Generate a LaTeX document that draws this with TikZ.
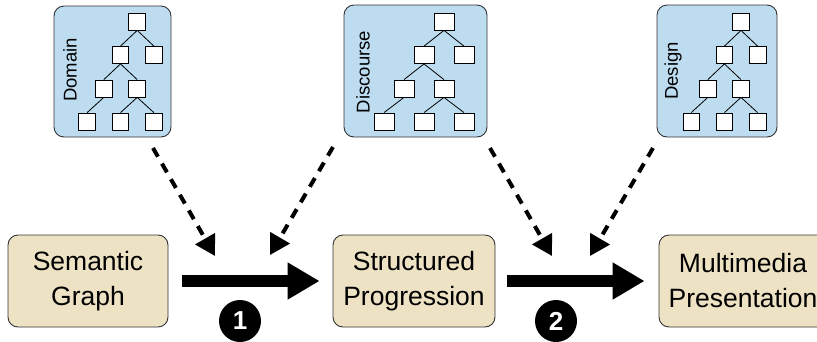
\documentclass[tikz,border=0pt]{standalone}
\usepackage{fontspec}
\setmainfont{Liberation Sans}
\usetikzlibrary{arrows.meta}
\definecolor{topblue}{HTML}{BDDCF0}
\definecolor{beige}{HTML}{EEE2C4}
\definecolor{edgegray}{HTML}{333333}
\tikzset{
  panel/.style={draw=edgegray, line width=0.9pt, fill=topblue, rounded corners=10pt, inner sep=0pt},
  stagebox/.style={draw=edgegray, line width=0.9pt, fill=beige, rounded corners=10pt, inner sep=0pt,
    align=center, font=\fontsize{26.5}{35}\selectfont, minimum height=92pt},
  sq/.style={draw=black, fill=white, line width=0.8pt, minimum height=17pt, inner sep=0pt},
  treeedge/.style={draw=black, line width=0.8pt},
  paneltext/.style={rotate=90, font=\fontsize{18.5}{20}\selectfont, inner sep=0pt},
  bigarrow/.style={line width=12pt, -{Triangle[length=32pt,width=35pt]}},
  dasharrow/.style={line width=4pt, dash pattern=on 10pt off 8pt, -{Triangle[length=20pt,width=22pt]}},
  badge/.style={circle, fill=black, text=white, minimum size=42pt, inner sep=0pt,
    font=\fontsize{26}{26}\selectfont\bfseries}
}
% tree macro: #1 prefix, #2 root x, #3 step (= square width)
\newcommand{\mytree}[3]{%
  \begin{scope}[every node/.append style={sq, minimum width=#3pt}]
  \node (#1r)  at (#2, 21.5) {};
  \node (#1a)  at (#2-#3, 55) {};
  \node (#1b)  at (#2+#3, 55) {};
  \node (#1c)  at (#2-2*#3, 88.5) {};
  \node (#1d)  at (#2, 88.5) {};
  \node (#1e)  at (#2-3*#3, 121.5) {};
  \node (#1f)  at (#2-#3, 121.5) {};
  \node (#1g)  at (#2+#3, 121.5) {};
  \end{scope}
  \draw[treeedge] (#1r.south) -- (#1a.north);
  \draw[treeedge] (#1r.south) -- (#1b.north);
  \draw[treeedge] (#1a.south) -- (#1c.north);
  \draw[treeedge] (#1a.south) -- (#1d.north);
  \draw[treeedge] (#1c.south) -- (#1e.north);
  \draw[treeedge] (#1d.south) -- (#1f.north);
  \draw[treeedge] (#1d.south) -- (#1g.north);
}
\begin{document}
\begin{tikzpicture}[x=1pt, y=-1pt]
\clip (0,0) rectangle (817,341);
\fill[white] (0,0) rectangle (817,341);

% top panels
\node[panel, minimum width=117pt, minimum height=131pt] (p1) at (112.5,71.5) {};
\node[panel, minimum width=143pt, minimum height=132pt] (p2) at (415.5,71) {};
\node[panel, minimum width=120pt, minimum height=132pt] (p3) at (717,71) {};
\node[paneltext] (l1) at (70,70) {Domain};
\node[paneltext] (l2) at (363,72) {Discourse};
\node[paneltext] (l3) at (673,71) {Design};
\mytree{ta}{137.2}{16.7}
\mytree{tb}{444}{20}
\mytree{tc}{741}{16.6}

% bottom stages
\node[stagebox, minimum width=160pt] (A) at (88,281) {Semantic\\Graph};
\node[stagebox, minimum width=162pt] (B) at (414,281) {Structured\\Progression};
\node[stagebox, minimum width=168pt] (C) at (743,281) {Multimedia\\Presentation};

% thick arrows
\draw[bigarrow] ([xshift=14pt]A.east) -- ([xshift=-13pt]B.west);
\draw[bigarrow] ([xshift=12pt]B.east) -- ([xshift=-14pt]C.west);

% badges
\node[badge] (n1) at (240,321) {1};
\node[badge] (n2) at (556,321) {2};

% dashed arrows
\coordinate (s1) at (153,148); \coordinate (e1) at (215,256);
\coordinate (s2) at (333,147); \coordinate (e2) at (270,255);
\coordinate (s3) at (490,148); \coordinate (e3) at (552,256);
\coordinate (s4) at (653,148); \coordinate (e4) at (590,256);
\draw[dasharrow] (s1) -- (e1);
\draw[dasharrow] (s2) -- (e2);
\draw[dasharrow] (s3) -- (e3);
\draw[dasharrow] (s4) -- (e4);
\end{tikzpicture}
\end{document}
